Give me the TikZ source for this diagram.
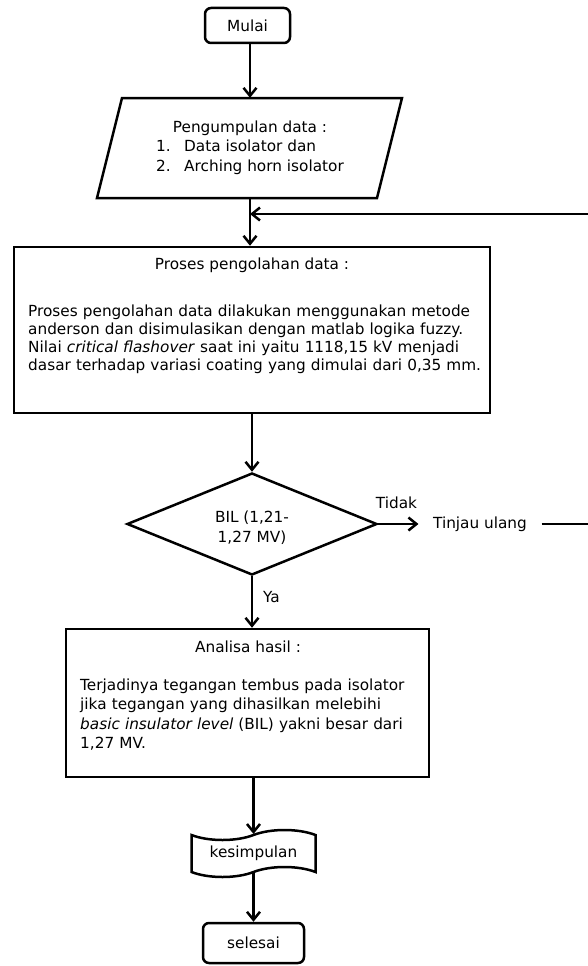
\documentclass[tikz,border=0pt]{standalone}
\usepackage{fontspec}
\setmainfont{DejaVu Sans}
\usetikzlibrary{arrows.meta,shapes.geometric,shapes.symbols}
\newcommand\jl[2]{\makebox[#1][s]{#2}}
\begin{document}
\begin{tikzpicture}[x=1pt,y=-1pt,
  font=\fontsize{15.3}{18}\selectfont,
  lw/.style={line width=2.5pt},
  boxnode/.style={draw,lw,inner sep=0pt},
  conn/.style={lw,-{Straight Barb[length=8pt,width=13pt]}},
  txt/.style={inner sep=0pt}]
\path[use as bounding box, fill=white] (0,0) rectangle (587,966);

% start
\node[boxnode, rounded corners=6pt, minimum width=85, minimum height=35] (mulai) at (247.5,25.5) {Mulai};

% input (parallelogram)
\node[txt, minimum width=255, minimum height=100] (para) at (250,148)
  {\fontsize{15.3}{19.5}\selectfont\begin{tabular}{@{}l@{}l@{}}\multicolumn{2}{c}{Pengumpulan data :}\\
   \makebox[28pt][l]{1.} & Data isolator dan\\
   \makebox[28pt][l]{2.} & Arching horn isolator\end{tabular}};
\draw[lw] (122,98) -- (402,98) -- (377,198) -- (97,198) -- cycle;

% process
\node[boxnode, minimum width=476, minimum height=166] (proses) at (252,330) {};
\node[txt] (prosesT) at (252,265) {Proses pengolahan data :};
\node[txt, text width=448pt, align=left, anchor=base west, font=\fontsize{15.3}{17.9}\selectfont] (prosesB) at (28,316.5)
  {\jl{448pt}{Proses pengolahan data dilakukan menggunakan metode}\\
   \jl{448pt}{anderson dan disimulasikan dengan matlab logika fuzzy.}\\
   \jl{448pt}{Nilai \textit{critical flashover} saat ini yaitu 1118,15 kV menjadi}\\
   \jl{448pt}{dasar terhadap variasi coating yang dimulai dari 0,35 mm.}};

% decision
\node[diamond, draw, lw, aspect=2.45, inner sep=0pt, minimum width=250, minimum height=102,
  align=center, font=\fontsize{15.3}{20}\selectfont] (bil) at (252,524) {\rule{0pt}{19pt}BIL (1,21-\\1,27 MV)};
\node[txt] (tidak) at (396.5,503) {Tidak};
\node[inner xsep=14.5pt, inner ysep=0pt] (tinjau) at (480,524) {Tinjau ulang};
\node[txt] (ya) at (271.5,597) {Ya};

% analysis
\node[boxnode, minimum width=363, minimum height=148] (analisa) at (247.5,703) {};
\node[txt] (analisaT) at (248,647) {Analisa hasil :};
\node[txt, text width=336pt, align=left, anchor=base west, font=\fontsize{15.3}{19.3}\selectfont] (analisaB) at (80,690.5)
  {\jl{336pt}{Terjadinya tegangan tembus pada isolator}\\
   \jl{336pt}{jika tegangan yang dihasilkan melebihi}\\
   \jl{336pt}{\textit{basic insulator level} (BIL) yakni besar dari}\\
   1,27 MV.};

% conclusion
\node[tape, draw, lw, minimum width=124, minimum height=47, tape bend height=10pt, inner sep=0pt] (kes) at (253.5,853.5) {kesimpulan};

% end
\node[boxnode, rounded corners=6pt, minimum width=101, minimum height=40] (selesai) at (253.5,943) {selesai};

% connectors
\coordinate (join) at (250,214);
\coordinate (rt) at (590,214);
\draw[conn] (para.south |- mulai.south) -- (para.north);
\draw[conn] (para.south) -- (para.south |- proses.north);
\draw[conn] (tinjau.east) -| (rt) -- (join);
\draw[conn] (proses.south) -- (bil.north);
\draw[conn] (bil.east) -- (tinjau.west);
\draw[conn] (bil.south) -- (bil.south |- analisa.north);
\draw[conn] (analisa.south -| kes.north) -- (kes.north);
\draw[conn] (kes.south) -- (selesai.north);
\end{tikzpicture}
\end{document}
